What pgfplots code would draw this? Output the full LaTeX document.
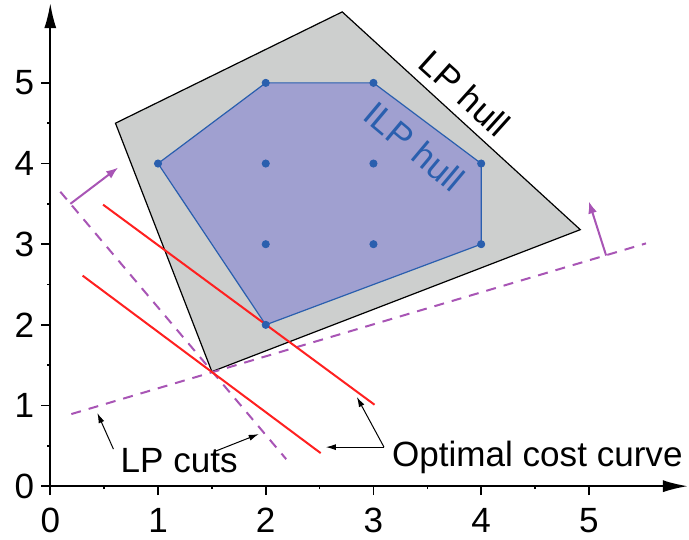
\documentclass[border=0pt]{standalone}
\usepackage{fontspec}
\setmainfont{Liberation Sans}
\usepackage{pgfplots}
\pgfplotsset{compat=1.18}
\usetikzlibrary{arrows.meta}
\definecolor{lpgray}{HTML}{CDCFCE}
\definecolor{ilpfill}{HTML}{A0A0D0}
\definecolor{ilpblue}{HTML}{2A5FAE}
\definecolor{cutpurple}{HTML}{A855B5}
\definecolor{optred}{HTML}{FF2020}
\begin{document}
\begin{tikzpicture}
\begin{axis}[
 x=53.75pt, y=40.25pt,
 xmin=0, xmax=5.92, ymin=0, ymax=5.99,
 axis x line=bottom, axis y line=left,
 axis line style={line width=1pt, -{Latex[length=12.5pt,width=6pt]}},
 xtick={0,...,5}, ytick={0,...,5},
 minor tick num=1,
 tick align=outside,
 major tick length=4.5pt, minor tick length=1.5pt,
 tick style={black, line width=0.8pt},
 tick label style={font=\fontsize{17.5}{20}\selectfont},
 xticklabel style={yshift=-3pt},
 /pgf/number format/assume math mode=true,
 clip=false,
]
% LP hull
\addplot[fill=lpgray, draw=black, line width=0.6pt] coordinates {(0.605,4.50)(2.71,5.88)(4.92,3.18)(1.50,1.42)} -- cycle;
% ILP hull
\addplot[fill=ilpfill, draw=ilpblue, line width=0.6pt] coordinates {(1,4)(2,5)(3,5)(4,4)(4,3)(2,2)} -- cycle;
\addplot[only marks, mark=*, mark size=1.8pt, ilpblue] coordinates {(1,4)(2,5)(3,5)(4,4)(4,3)(2,2)(2,4)(3,4)(2,3)(3,3)};
% LP cuts
\addplot[cutpurple, line width=1pt, dash pattern=on 5pt off 4pt] coordinates {(0.093,3.65)(2.19,0.335)};
\addplot[cutpurple, line width=1pt, dash pattern=on 5pt off 4pt] coordinates {(0.195,0.894)(5.53,3.01)};
\addplot[cutpurple, line width=1pt, -{Latex[length=6pt,width=4.5pt]}] coordinates {(0.186,3.50)(0.63,3.95)};
\addplot[cutpurple, line width=1pt, -{Latex[length=6pt,width=4.5pt]}] coordinates {(5.16,2.86)(5.00,3.53)};
% optimal cost curves
\addplot[optred, line width=1pt] coordinates {(0.49,3.49)(3.01,1.01)};
\addplot[optred, line width=1pt] coordinates {(0.30,2.61)(2.51,0.41)};
% annotation arrows
\addplot[black, line width=0.5pt, -{Latex[length=5pt,width=3pt]}] coordinates {(0.586,0.46)(0.437,0.907)};
\addplot[black, line width=0.5pt, -{Latex[length=5pt,width=3pt]}] coordinates {(1.535,0.435)(1.935,0.646)};
\addplot[black, line width=0.5pt, -{Latex[length=5pt,width=3pt]}] coordinates {(3.098,0.484)(2.558,0.484)};
\addplot[black, line width=0.5pt, -{Latex[length=5pt,width=3pt]}] coordinates {(3.098,0.484)(2.846,1.106)};
% labels
\node[anchor=base west, inner sep=0pt, font=\fontsize{17.5}{20}\selectfont] at (axis cs:0.65,0.174) {LP cuts};
\node[anchor=base west, inner sep=0pt, font=\fontsize{17.5}{20}\selectfont] at (axis cs:3.17,0.25) {Optimal cost curve};
\node[rotate=-42, inner sep=0pt, font=\fontsize{17.5}{20}\selectfont] at (axis cs:3.85,4.87) {LP hull};
\node[rotate=-40, inner sep=0pt, text=ilpblue, font=\fontsize{17.5}{20}\selectfont] at (axis cs:3.38,4.21) {ILP hull};
\end{axis}
\path ([xshift=-4pt]current bounding box.west);
\path ([yshift=1pt]current bounding box.north);
\end{tikzpicture}
\end{document}
